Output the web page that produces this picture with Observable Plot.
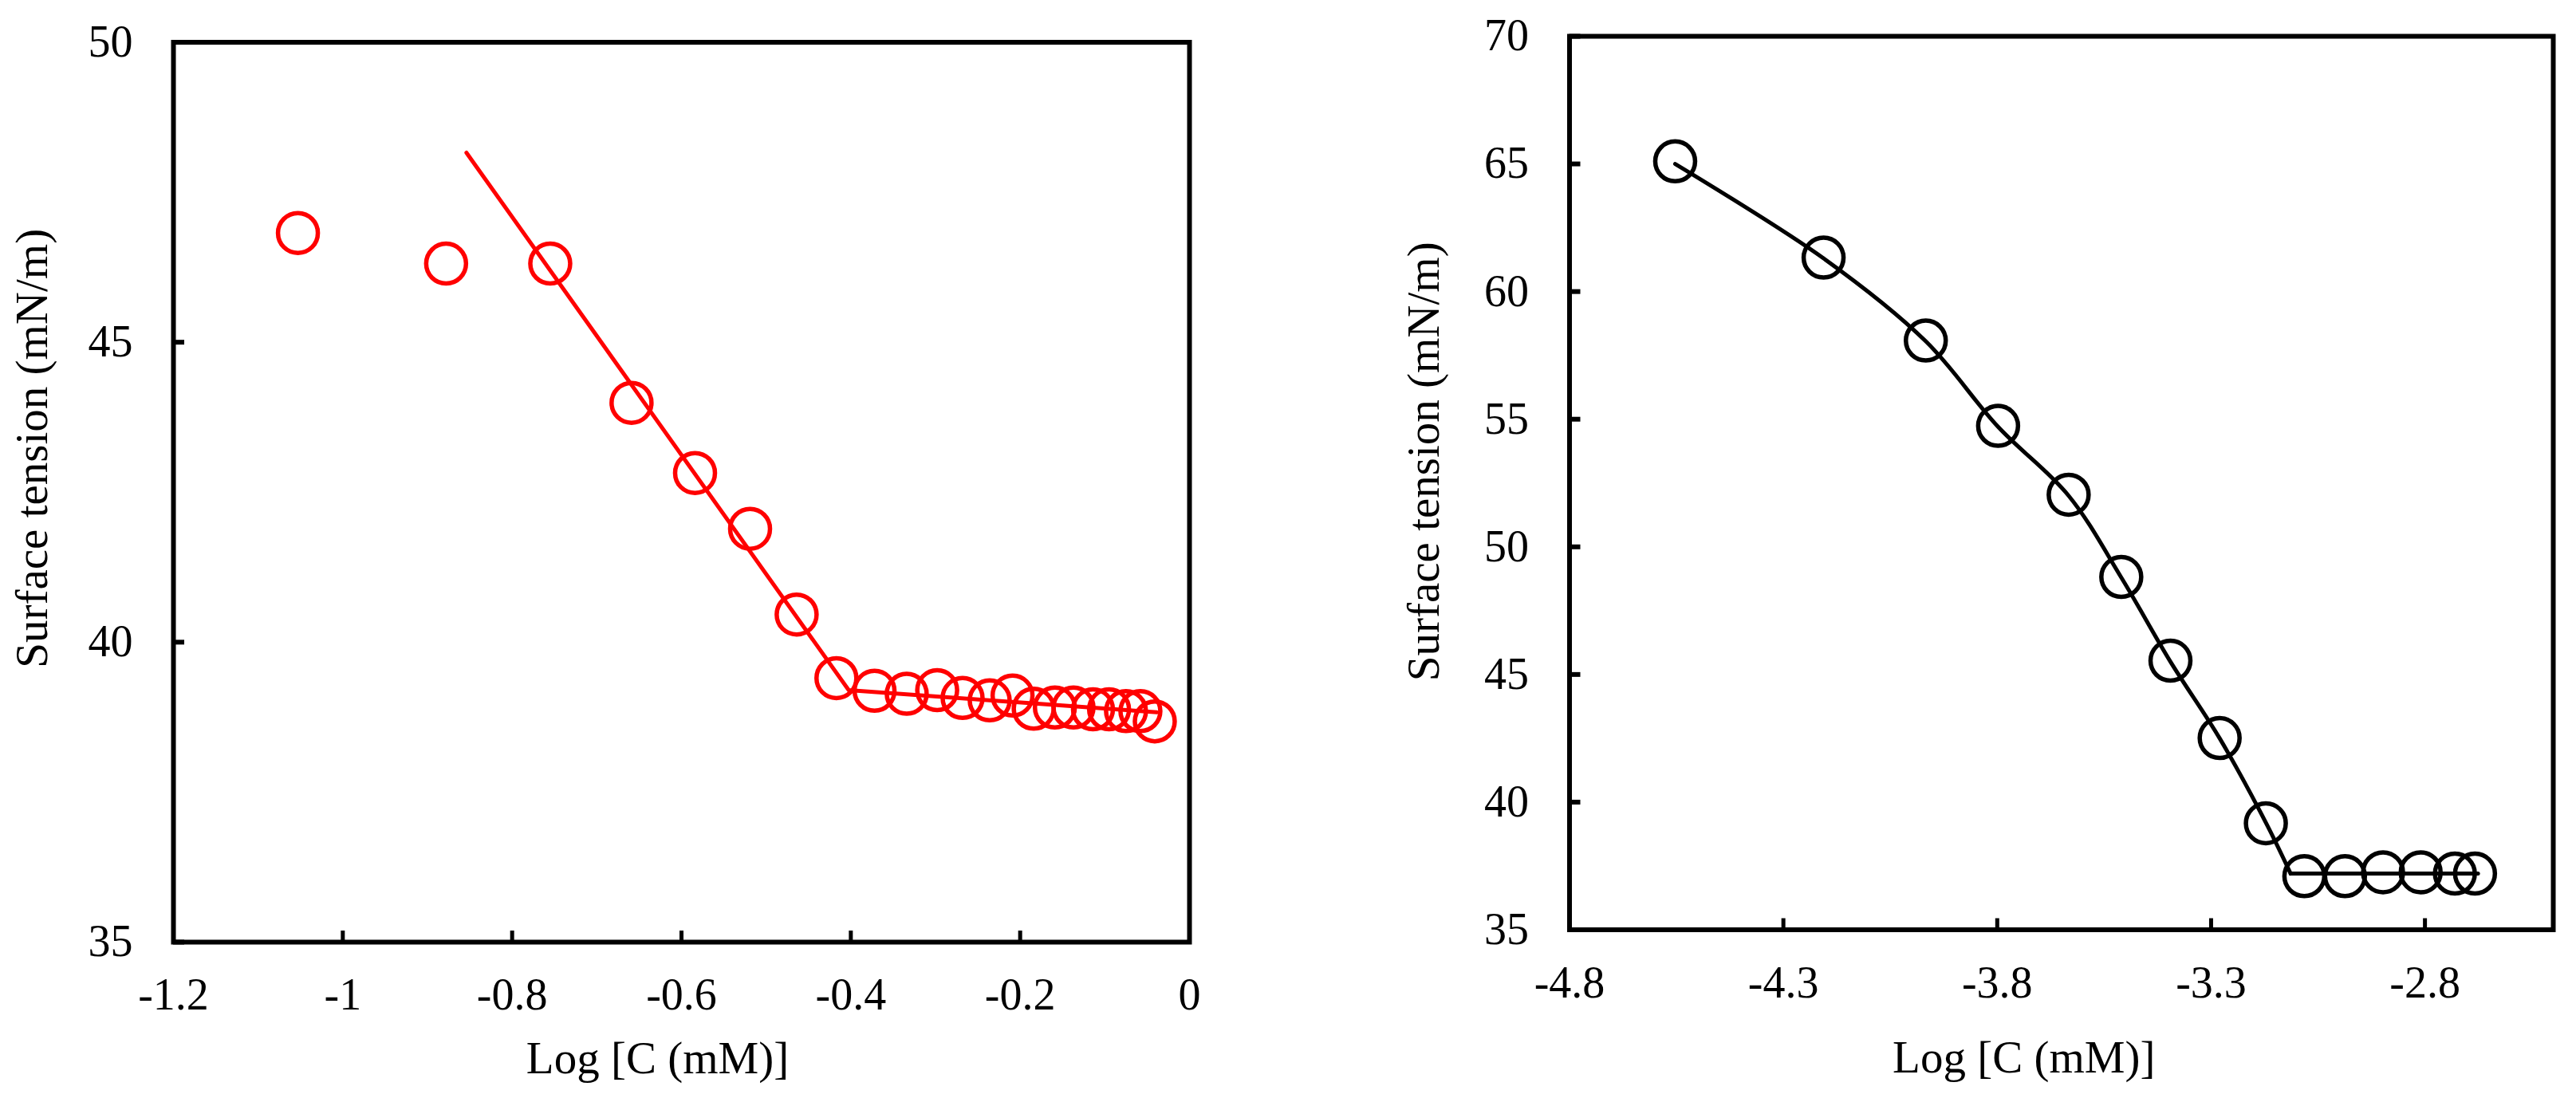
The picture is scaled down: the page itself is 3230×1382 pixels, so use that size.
<!DOCTYPE html>
<html><head><meta charset="utf-8">
<script src="https://cdn.jsdelivr.net/npm/d3@7"></script>
<script src="https://cdn.jsdelivr.net/npm/@observablehq/plot@0.6"></script>
<style>
body{margin:0;background:#fff;}
#wrap{position:relative;width:3230px;height:1382px;overflow:hidden;background:#fff;}
#left,#right{position:absolute;top:0;}
#left{left:0;} #right{left:1630px;}
</style></head><body><div id="wrap"><div id="left"></div><div id="right"></div></div>
<script>
// ---- Left panel data (red) ----
const leftX = [-1.053, -0.878, -0.755, -0.659, -0.584, -0.519, -0.464, -0.417, -0.372, -0.334, -0.298, -0.268, -0.236, -0.209, -0.184, -0.159, -0.137, -0.114, -0.095, -0.075, -0.058, -0.041];
const leftY = [46.82, 46.31, 46.31, 43.99, 42.82, 41.89, 40.46, 39.40, 39.19, 39.14, 39.20, 39.07, 39.03, 39.11, 38.89, 38.91, 38.91, 38.88, 38.88, 38.85, 38.85, 38.68];
const leftFitX = [-0.854, -0.4025, -0.0385];
const leftFitY = [48.16, 39.20, 38.83];
const leftXTicks = [-1.2, -1, -0.8, -0.6, -0.4, -0.2, 0];
const leftXTickLabels = ["-1.2", "-1", "-0.8", "-0.6", "-0.4", "-0.2", "0"];
const leftYTicks = [35, 40, 45, 50];
const leftYTickLabels = ["35", "40", "45", "50"];

// ---- Right panel data (black) ----
const rightX = [-4.553, -4.206, -3.967, -3.798, -3.633, -3.510, -3.395, -3.280, -3.172, -3.082, -2.987, -2.898, -2.810, -2.730, -2.683];
const rightY = [65.1, 61.33, 58.08, 54.74, 52.04, 48.82, 45.54, 42.51, 39.17, 37.1, 37.1, 37.25, 37.25, 37.2, 37.2];
const rightCurveX = [-4.553, -4.206, -3.967, -3.798, -3.633, -3.510, -3.395, -3.280, -3.172, -3.114];
const rightCurveY = [65.0, 61.3, 58.05, 54.7, 52.0, 48.8, 45.5, 42.5, 39.2, 37.2];
const rightFlatX = [-3.114, -2.676];
const rightFlatY = [37.2, 37.2];
const rightXTicks = [-4.8, -4.3, -3.8, -3.3, -2.8];
const rightXTickLabels = ["-4.8", "-4.3", "-3.8", "-3.3", "-2.8"];
const rightYTicks = [35, 40, 45, 50, 55, 60, 65, 70];
const rightYTickLabels = ["35", "40", "45", "50", "55", "60", "65", "70"];

const xTitle = "Log [C (mM)]";
const yTitle = "Surface tension (mN/m)";

const FONT = '"Liberation Serif", "Times New Roman", serif';
const FS = 56;

function zip(xs, ys) { return xs.map((x, i) => ({x, y: ys[i]})); }

function panel(cfg) {
  const fmtX = d => cfg.xLabels[cfg.xTicks.indexOf(d)];
  const fmtY = d => cfg.yLabels[cfg.yTicks.indexOf(d)];
  return Plot.plot({
    width: cfg.width, height: 1382,
    marginLeft: cfg.ml, marginRight: cfg.mr, marginTop: cfg.mt, marginBottom: cfg.mb,
    x: {domain: cfg.xDomain},
    y: {domain: cfg.yDomain},
    style: {fontFamily: FONT, fontSize: FS + "px", color: "#000", background: "transparent", overflow: "visible"},
    marks: [
      ...cfg.lines,
      Plot.dot(zip(cfg.px, cfg.py), {x: "x", y: "y", r: 25, stroke: cfg.color, strokeWidth: 5.5, fill: "none"}),
      Plot.frame({stroke: "#000", strokeWidth: 6}),
      // inward tick marks
      Plot.axisX(cfg.xTicks, {anchor: "bottom", tickSize: 14, dy: -14, tickFormat: () => "", label: null, strokeWidth: 5, stroke: "#000"}),
      Plot.axisY(cfg.yTicks, {anchor: "left", tickSize: 14, dx: 14, tickFormat: () => "", label: null, strokeWidth: 6, stroke: "#000"}),
      // tick labels
      Plot.axisX(cfg.xTicks, {anchor: "bottom", tickSize: 0, tickPadding: 45, tickFormat: fmtX, label: null, fill: "#000", fontSize: FS}),
      Plot.axisY(cfg.yTicks, {anchor: "left", tickSize: 0, tickPadding: 51, tickFormat: fmtY, label: null, fill: "#000", fontSize: FS}),
      // axis titles
      Plot.text([xTitle], {frameAnchor: "bottom", text: d => d, dx: cfg.xtDx, dy: cfg.xtDy, fontSize: 57, fill: "#000", lineAnchor: "middle", textAnchor: "middle"}),
      Plot.text([yTitle], {frameAnchor: "left", text: d => d, rotate: -90, dx: cfg.ytDx, dy: cfg.ytDy, fontSize: 57, fill: "#000", lineAnchor: "middle", textAnchor: "middle"})
    ]
  });
}

const leftChart = panel({
  width: 1600, ml: 217, mr: 109, mt: 52.5, mb: 201,
  xDomain: [-1.2, 0], yDomain: [35, 50],
  xTicks: leftXTicks, xLabels: leftXTickLabels, yTicks: leftYTicks, yLabels: leftYTickLabels,
  px: leftX, py: leftY, color: "#ff0000",
  lines: [Plot.line(zip(leftFitX, leftFitY), {x: "x", y: "y", stroke: "#ff0000", strokeWidth: 5})],
  xtDx: -30, xtDy: 146, ytDx: -177, ytDy: -55
});
document.getElementById("left").appendChild(leftChart);

const rightChart = panel({
  width: 1600, ml: 337.5, mr: 29, mt: 45, mb: 216.5,
  xDomain: [-4.8, -2.5], yDomain: [35, 70],
  xTicks: rightXTicks, xLabels: rightXTickLabels, yTicks: rightYTicks, yLabels: rightYTickLabels,
  px: rightX, py: rightY, color: "#000",
  lines: [
    Plot.line(zip(rightCurveX, rightCurveY), {x: "x", y: "y", stroke: "#000", strokeWidth: 5, curve: "catmull-rom"}),
    Plot.line(zip(rightFlatX, rightFlatY), {x: "x", y: "y", stroke: "#000", strokeWidth: 5})
  ],
  xtDx: -47, xtDy: 161, ytDx: -182, ytDy: -27
});
document.getElementById("right").appendChild(rightChart);
</script></body></html>
